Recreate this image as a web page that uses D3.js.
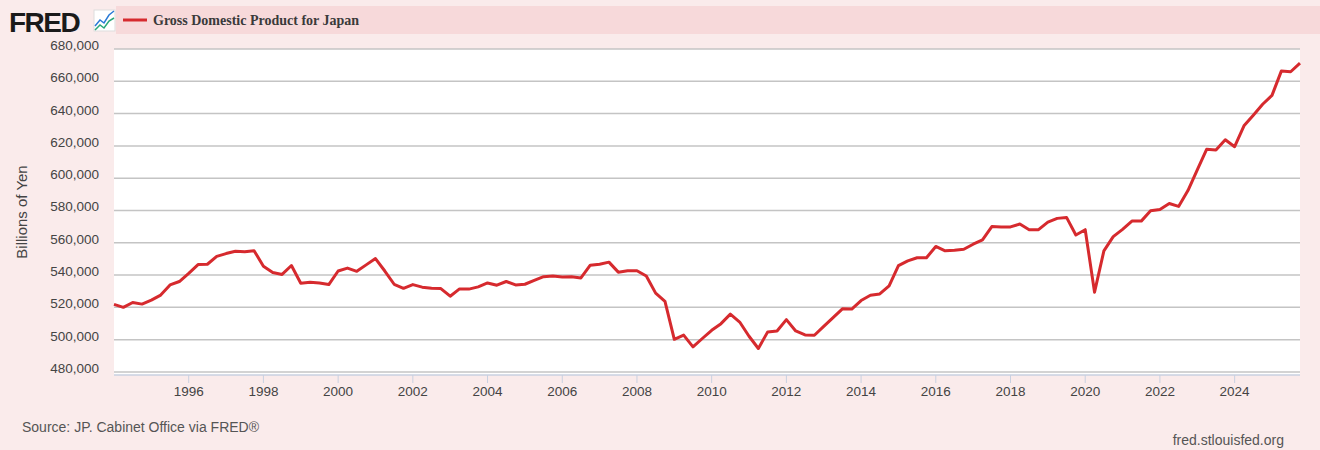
<!DOCTYPE html>
<html><head><meta charset="utf-8">
<script src="https://cdn.jsdelivr.net/npm/d3@7"></script>
<style>body{margin:0;background:#faebeb;}svg{display:block;}</style>
</head><body>
<svg id="c" width="1320" height="450"></svg>
<script>
const startYear = 1994;
const gdp = [
521.8,520,523,522, 524.5,527.6,533.9,536, 541,546.5,546.7,551.6, 553.3,554.7,554.5,555.1,
545.5,541.6,540.4,545.9, 534.9,535.5,535.1,534.1, 542.5,544.3,542.3,546.3, 550.2,542.5,534.3,531.8,
534.1,532.5,531.8,531.6, 526.9,531.4,531.3,532.7, 535.1,533.7,536,533.9, 534.3,536.7,539,539.4,
538.8,539,538.2,546.1, 546.7,548,541.8,542.7, 542.7,539.4,528.8,523.7, 500.2,502.8,495.5,500.7,
505.8,509.9,515.8,510.9, 502.1,494.5,504.8,505.4, 512.4,505.4,502.9,502.7, 508.2,513.6,519.1,518.9,
524.2,527.5,528.3,533.3, 545.8,548.8,550.7,550.7, 557.7,555,555.4,556, 559.1,561.8,570,569.8,
569.8,571.6,568.1,568.1, 572.8,575.1,575.7,564.8, 568.1,529.4,555,563.8, 568.3,573.4,573.4,579.8,
580.6,584.3,582.5,592.3, 605.2,617.9,617.5,623.8, 619.5,632.4,639,645.8, 651.3,666.3,665.9,671.2
].map(v=>v*1000);
const yTicks = [480000,500000,520000,540000,560000,580000,600000,620000,640000,660000,680000];
const xTicks = [1996,1998,2000,2002,2004,2006,2008,2010,2012,2014,2016,2018,2020,2022,2024];
const title = "Gross Domestic Product for Japan";
const yLabel = "Billions of Yen";
const source = "Source: JP. Cabinet Office via FRED®";

const svg = d3.select("#c");
const L=114, R=1300, T=49, B=375;
const data = gdp.map((v,i)=>({t:startYear+i/4, v}));
const x = d3.scaleLinear().domain([startYear, startYear+(gdp.length-1)/4]).range([L,R]);
const y = d3.scaleLinear().domain([478100,680000]).range([B,T]);

svg.append("rect").attr("x",L).attr("y",T).attr("width",R-L).attr("height",B-T).attr("fill","#fff");
// legend band
svg.append("rect").attr("x",116).attr("y",6).attr("width",1204).attr("height",28).attr("fill","#f7d9da");
svg.append("line").attr("x1",123).attr("x2",147).attr("y1",20).attr("y2",20).attr("stroke","#d62a2e").attr("stroke-width",3);
svg.append("text").attr("x",153).attr("y",25).text(title)
  .attr("font-family","'Liberation Serif','DejaVu Serif',serif").attr("font-weight","bold").attr("font-size",14).attr("fill","#3a3a3a");
// FRED logo
svg.append("text").attr("x",9).attr("y",32).text("FRED").attr("font-family","'Liberation Sans',Arial,sans-serif")
  .attr("font-weight","bold").attr("font-size",28).attr("letter-spacing",-1.5).attr("fill","#1a1a1a");
svg.append("rect").attr("x",94).attr("y",10).attr("width",21).attr("height",21).attr("fill","#fff").attr("stroke","#ddd");
svg.append("path").attr("d","M95,26 L100,20 L104,23 L109,15 L114,11").attr("fill","none").attr("stroke","#2a7ad6").attr("stroke-width",1.5);
svg.append("path").attr("d","M95,30 L100,25 L104,28 L109,21 L114,18").attr("fill","none").attr("stroke","#2aa87a").attr("stroke-width",1.5);

// grid
svg.append("g").selectAll("line").data(yTicks).join("line")
  .attr("x1",L).attr("x2",R).attr("y1",d=>y(d)).attr("y2",d=>y(d)).attr("stroke","#c4c4c4").attr("stroke-width",1.5);
// y labels
svg.append("g").selectAll("text").data(yTicks).join("text")
  .attr("x",99).attr("y",d=>y(d)-4+5).attr("text-anchor","end").text(d3.format(","))
  .attr("font-family","'Liberation Sans',Arial,sans-serif").attr("font-size",13.5).attr("fill","#444");
// x axis
svg.append("line").attr("x1",L).attr("x2",R).attr("y1",B).attr("y2",B).attr("stroke","#c8d0e0").attr("stroke-width",1.5);
const xa = svg.append("g");
xa.selectAll("line").data(xTicks).join("line").attr("x1",d=>x(d)).attr("x2",d=>x(d)).attr("y1",B).attr("y2",B+8).attr("stroke","#c8d0e0");
xa.selectAll("text").data(xTicks).join("text").attr("x",d=>x(d)).attr("y",B+21).attr("text-anchor","middle").text(d=>d)
  .attr("font-family","'Liberation Sans',Arial,sans-serif").attr("font-size",13.5).attr("fill","#444");

svg.append("path").datum(data).attr("fill","none").attr("stroke","#d62a2e").attr("stroke-width",3).attr("stroke-linejoin","round")
  .attr("d",d3.line().x(d=>x(d.t)).y(d=>y(d.v)));

svg.append("text").attr("transform","translate(27,212) rotate(-90)").attr("text-anchor","middle").text(yLabel)
  .attr("font-family","'Liberation Sans',Arial,sans-serif").attr("font-size",15).attr("fill","#444");
svg.append("text").attr("x",22).attr("y",432).text(source).attr("font-family","'Liberation Sans',Arial,sans-serif").attr("font-size",14).attr("fill","#555");
svg.append("text").attr("x",1284).attr("y",445).attr("text-anchor","end").text("fred.stlouisfed.org").attr("font-family","'Liberation Sans',Arial,sans-serif").attr("font-size",14).attr("fill","#555");
</script></body></html>
